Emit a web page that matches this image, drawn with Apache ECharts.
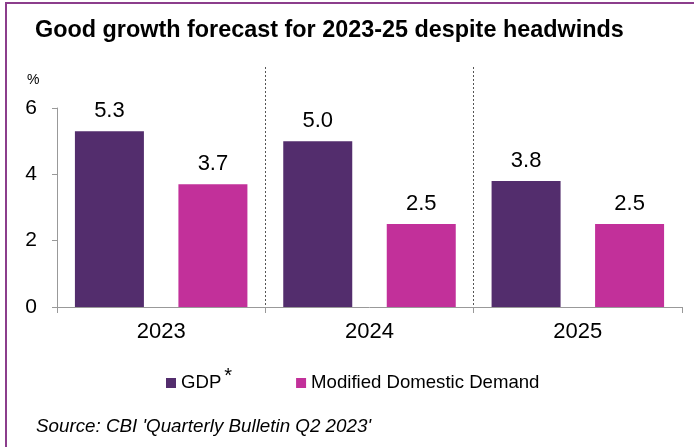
<!DOCTYPE html>
<html>
<head>
<meta charset="utf-8">
<script src="https://cdn.jsdelivr.net/npm/echarts@6/dist/echarts.min.js"></script>
<style>
  html, body { margin: 0; padding: 0; background: #fff; }
  #chart { width: 694px; height: 447px; }
</style>
</head>
<body>
<div id="chart"></div>
<script>
// data
const years = ['2023', '2024', '2025'];
const gdp = [5.3, 5.0, 3.8];
const mdd = [3.7, 2.5, 2.5];
const yMin = 0, yMax = 6, yStep = 2;

const FONT = '"Liberation Sans", Arial, sans-serif';
const GDP_COL = '#532d6d';
const MDD_COL = '#c2309a';

let chart = echarts.init(document.getElementById('chart'), null, { renderer: 'canvas' });

/* value label above each bar */
let barLabel = {
  show: true,
  position: 'top',
  distance: 9,
  fontSize: 22,
  fontFamily: FONT,
  color: '#000',
  formatter: p => p.value.toFixed(1)
};

let option = {
  animation: false,
  textStyle: { fontFamily: FONT },
  title: [{
    text: 'Good growth forecast for 2023-25 despite headwinds',
    left: 30,
    top: 14,
    textStyle: { fontSize: 23.4, fontWeight: 'bold', color: '#000', fontFamily: FONT }
  }, {
    text: "Source: CBI 'Quarterly Bulletin Q2 2023'",
    left: 31,
    top: 412,
    textStyle: { fontSize: 18.8, fontStyle: 'italic', fontWeight: 'normal', color: '#000', fontFamily: FONT }
  }],
  legend: {
    left: 161,
    top: 361,
    icon: 'rect',
    itemWidth: 10,
    itemHeight: 10,
    itemGap: 64,
    data: ['GDP', 'Modified Domestic Demand'],
    formatter: name => name === 'GDP' ? '{a|GDP}{s|*}' : name,
    textStyle: {
      fontSize: 18.6,
      color: '#000',
      fontFamily: FONT,
      rich: {
        a: { fontSize: 18.6, color: '#000', fontFamily: FONT },
        s: { fontSize: 20, color: '#000', fontFamily: FONT, padding: [0, 0, 14, 3] }
      }
    }
  },
  graphic: [{
    type: 'rect',
    shape: { x: 6, y: 3, width: 760, height: 520 },
    style: { fill: 'none', stroke: '#8c3d8c', lineWidth: 2 },
    silent: true
  }, {
    type: 'text',
    left: 27,
    top: 73,
    style: { text: '%', fontSize: 14, fill: '#000', fontFamily: FONT }
  }],
  grid: [
    { left: 57, right: 12, top: 108, bottom: 140 },
    /* taller grid only for the dotted year separators */
    { left: 57, right: 12, top: 67, bottom: 140 }
  ],
  xAxis: [{
    type: 'category',
    gridIndex: 0,
    data: years,
    axisLine: { lineStyle: { color: '#999', width: 1 } },
    axisTick: { show: true, length: 6, lineStyle: { color: '#999' } },
    axisLabel: { fontSize: 22, color: '#000', margin: 14, fontFamily: FONT },
    splitLine: { show: false }
  }, {
    type: 'value',
    gridIndex: 1,
    min: 0,
    max: years.length,
    interval: 1,
    axisLine: { show: false },
    axisTick: { show: false },
    axisLabel: { show: false },
    splitLine: {
      show: true,
      showMinLine: false,
      showMaxLine: false,
      lineStyle: { color: '#555', type: [2, 2], width: 1 }
    }
  }],
  yAxis: [{
    type: 'value',
    gridIndex: 0,
    min: yMin,
    max: yMax,
    interval: yStep,
    axisLine: { show: true, lineStyle: { color: '#999', width: 1 } },
    axisTick: { show: true, length: 5, lineStyle: { color: '#999' } },
    axisLabel: { fontSize: 21, color: '#000', margin: 20, fontFamily: FONT },
    splitLine: { show: false }
  }, {
    type: 'value',
    gridIndex: 1,
    min: 0,
    max: 1,
    show: false
  }],
  series: [{
    name: 'GDP',
    type: 'bar',
    xAxisIndex: 0,
    yAxisIndex: 0,
    data: gdp,
    barWidth: 69,
    barGap: '50%',
    itemStyle: { color: GDP_COL },
    label: barLabel
  }, {
    name: 'Modified Domestic Demand',
    type: 'bar',
    xAxisIndex: 0,
    yAxisIndex: 0,
    data: mdd,
    barWidth: 69,
    barGap: '50%',
    itemStyle: { color: MDD_COL },
    label: barLabel
  }]
};

chart.setOption(option);
</script>
</body>
</html>
